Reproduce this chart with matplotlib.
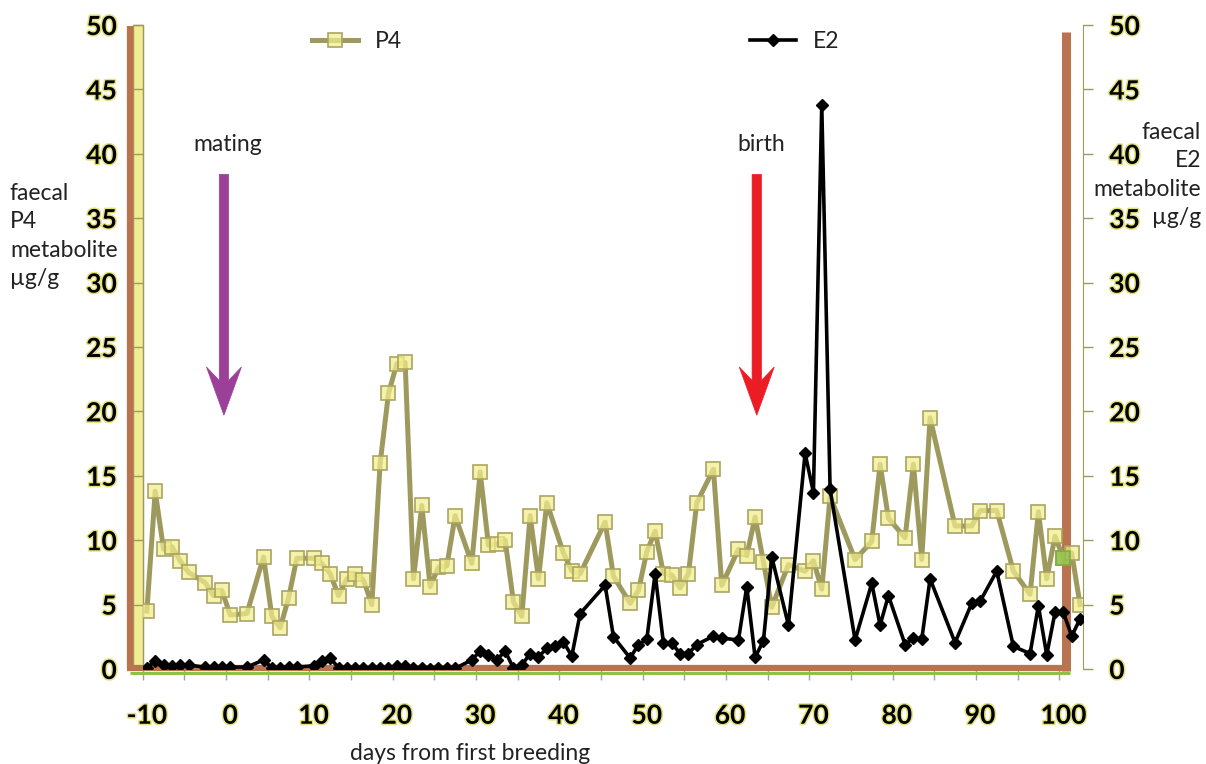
import numpy as np
import matplotlib
matplotlib.use("Agg")
import matplotlib.pyplot as plt
import matplotlib.patheffects as pe
from matplotlib.lines import Line2D
from matplotlib.patches import Rectangle, Polygon

plt.rcParams['font.family'] = ['Lato', 'DejaVu Sans']

# faecal P4 metabolite (ug/g), by day from first breeding
p4_days = [-10, -9, -8, -7, -6, -5, -3, -2, -1, 0, 2, 4, 5, 6, 7, 8,
           10, 11, 12, 13, 14, 15, 16, 17, 18, 19, 20, 21, 22, 23, 24, 25, 26, 27,
           29, 30, 31, 32, 33, 34, 35, 36, 37, 38, 40, 41, 42, 45, 46,
           48, 49, 50, 51, 52, 53, 54, 55, 56, 58, 59, 61, 62, 63, 64, 65, 67,
           69, 70, 71, 72, 75, 77, 78, 79, 81, 82, 83, 84, 87, 89, 90, 92, 94,
           96, 97, 98, 99, 100, 101, 102]
p4_vals = [4.5, 13.8, 9.3, 9.5, 8.4, 7.5, 6.7, 5.7, 6.1, 4.2, 4.3, 8.7, 4.1, 3.2, 5.5, 8.6,
           8.6, 8.2, 7.4, 5.7, 7.0, 7.4, 6.9, 5.0, 16.0, 21.4, 23.7, 23.8, 7.0, 12.7, 6.4, 7.9, 8.0, 11.9,
           8.2, 15.3, 9.6, 9.7, 10.0, 5.2, 4.1, 11.9, 7.0, 12.9, 9.0, 7.6, 7.4, 11.4, 7.2,
           5.1, 6.1, 9.1, 10.7, 7.4, 7.3, 6.3, 7.4, 12.9, 15.5, 6.5, 9.3, 8.8, 11.8, 8.3, 4.8, 8.1,
           7.6, 8.4, 6.2, 13.4, 8.5, 9.9, 15.9, 11.7, 10.2, 15.9, 8.5, 19.5, 11.1, 11.1, 12.3, 12.3, 7.6,
           5.8, 12.2, 7.0, 10.3, 8.6, 9.0, 5.0]

# faecal E2 metabolite (ug/g)
e2_days = [-10, -9, -8, -7, -6, -5, -3, -2, -1, 0, 2, 4, 5, 6, 7, 8,
           10, 11, 12, 13, 14, 15, 16, 17, 18, 19, 20, 21, 22, 23, 24, 25, 26, 27,
           29, 30, 31, 32, 33, 34, 35, 36, 37, 38, 39, 40, 41, 42, 45, 46,
           48, 49, 50, 51, 52, 53, 54, 55, 56, 58, 59, 61, 62, 63, 64, 65, 67,
           69, 70, 71, 72, 75, 77, 78, 79, 81, 82, 83, 84, 87, 89, 90, 92, 94,
           96, 97, 98, 99, 100, 101, 102]
e2_vals = [0.1, 0.6, 0.3, 0.25, 0.3, 0.3, 0.15, 0.15, 0.15, 0.15, 0.15, 0.7, 0.1, 0.1, 0.15, 0.15,
           0.25, 0.6, 0.85, 0.1, 0.05, 0.05, 0.05, 0.05, 0.05, 0.1, 0.2, 0.2, 0.05, 0.05, 0.0, 0.05, 0.1, 0.05,
           0.7, 1.4, 1.1, 0.7, 1.4, 0.05, 0.3, 1.2, 0.95, 1.6, 1.8, 2.1, 1.0, 4.3, 6.5, 2.5,
           0.85, 1.9, 2.3, 7.4, 2.0, 2.0, 1.2, 1.2, 1.9, 2.55, 2.4, 2.25, 6.4, 0.9, 2.2, 8.7, 3.4,
           16.75, 13.7, 43.8, 13.95, 2.25, 6.65, 3.4, 5.7, 1.9, 2.4, 2.3, 7.0, 2.05, 5.1, 5.25, 7.6, 1.75,
           1.2, 4.9, 1.1, 4.4, 4.4, 2.55, 3.9]

events = ["mating", "birth"]
event_days = [-0.75, 63.2]
event_colors = ["#9c3f98", "#ec1c24"]

y_ticks = [0, 5, 10, 15, 20, 25, 30, 35, 40, 45, 50]
x_labels = [-10, 0, 10, 20, 30, 40, 50, 60, 70, 80, 90, 100]

olive = "#9e9a5e"
pale = "#f0ed95"
brown = "#b9734e"
green = "#8dc04d"
txt = "#222222"

W, H = 1206, 764
fig = plt.figure(figsize=(W / 100, H / 100), dpi=100)
ax = fig.add_axes([142.7 / W, (H - 669) / H, 940.6 / W, 644 / H])
ax2 = ax.twinx()

glow = [pe.withStroke(linewidth=2.2, foreground="#e6e27a")]

for a in (ax, ax2):
    a.set_xlim(-10.5, 102.39)
    a.set_ylim(0, 50)
    a.set_yticks(y_ticks, labels=[str(v) for v in y_ticks], fontweight="bold",
                 fontsize=19, path_effects=glow)
    for s in ("top", "bottom"):
        a.spines[s].set_visible(False)
ax.spines["right"].set_visible(False)
ax2.spines["left"].set_visible(False)
ax.spines["left"].set_color(olive)
ax2.spines["right"].set_color(olive)
ax.tick_params(axis="y", direction="out", length=7.2, width=1, color=olive, pad=11.5)
ax2.tick_params(axis="y", direction="out", length=7.2, width=1, color=olive, pad=11.5)

ax.set_xticks(x_labels, labels=[str(v) for v in x_labels], fontweight="bold",
              fontsize=19, path_effects=glow)
ax.set_xticks(np.arange(-10, 101, 5) - 0.5, minor=True)
ax.tick_params(axis="x", which="major", length=0, pad=25)
ax.tick_params(axis="x", which="minor", direction="out", length=8, width=1, color="#a6a488")

# plot-area frame (brown), yellow left bar and green base line
fx = lambda px: (px - 142.7) / 940.6
fy = lambda py: (669 - py) / 644
ax.add_patch(Rectangle((fx(133), 0), fx(143) - fx(133), 1, transform=ax.transAxes,
                       facecolor=pale, edgecolor=olive, lw=1, clip_on=False, zorder=1))
frame = dict(transform=ax.transAxes, clip_on=False, zorder=2.6, solid_capstyle="butt")
ax.add_line(Line2D([fx(130), fx(130)], [fy(669), fy(26)], color=brown, lw=4.5, **frame))
ax.add_line(Line2D([fx(127), fx(1070.5)], [fy(668), fy(668)], color=brown, lw=4.5, **frame))
ax.add_line(Line2D([fx(1066.5), fx(1066.5)], [fy(671), fy(32)], color=brown, lw=6.5, **frame))
ax.add_line(Line2D([fx(130), fx(1070.5)], [fy(672.5), fy(672.5)], color=green, lw=2.2, **frame))

# series
ax.plot(p4_days, p4_vals, color=olive, lw=3.6, marker="s", ms=9.4,
        mfc=(0.95, 0.93, 0.55, 0.72), mec="#aaa460", mew=1.2, zorder=4)
ax.plot(p4_days[-3], p4_vals[-3], ls="none", marker="s", ms=9.4,
        mfc="#8fbf4a", mec="#7aa840", mew=1.2, zorder=5, alpha=0.85)
ax2.plot(e2_days, e2_vals, color="black", lw=2.6, marker="D", ms=6,
         mfc="black", mec="black", zorder=5)

# event arrows
for name, d, c in zip(events, event_days, event_colors):
    sw, hw = 0.56, 2.1
    top, junction, wing, tip = 38.4, 22.4, 23.45, 19.7
    ax.add_patch(Polygon([(d - sw, top), (d + sw, top), (d + sw, junction), (d + hw, wing),
                          (d, tip), (d - hw, wing), (d - sw, junction)],
                         closed=True, facecolor=c, edgecolor=c, lw=0.5, zorder=3))
    ax.text(d + 0.5, 40.2, name, ha="center", va="baseline", fontsize=16.5, color=txt)

# legend entries
h_p4 = Line2D([], [], color=olive, lw=3.6, marker="s", ms=9.4,
              mfc=(0.95, 0.93, 0.55, 0.72), mec="#aaa460", mew=1.2)
h_e2 = Line2D([], [], color="black", lw=2.6, marker="D", ms=6, mfc="black")
leg_kw = dict(frameon=False, loc="center left", borderpad=0, borderaxespad=0,
              handlelength=2.0, handletextpad=0.75, fontsize=16.5, labelcolor=txt)
fig.legend([h_p4], ["P4"], bbox_to_anchor=(312 / W, 1 - 42 / H), **leg_kw)
fig.legend([h_e2], ["E2"], bbox_to_anchor=(750 / W, 1 - 42 / H), **leg_kw)

# axis titles
fig.text(10 / W, 1 - 236 / H, "faecal\nP4\nmetabolite\nµg/g", ha="left", va="center",
         fontsize=16.5, color=txt, linespacing=1.45)
fig.text(1201 / W, 1 - 175 / H, "faecal\nE2\nmetabolite\nµg/g", ha="right", va="center",
         multialignment="right", fontsize=16.5, color=txt, linespacing=1.45)
fig.text(470 / W, 4 / H, "days from first breeding", ha="center", va="baseline",
         fontsize=16.5, color=txt)

fig.savefig("out.png", dpi=100)
